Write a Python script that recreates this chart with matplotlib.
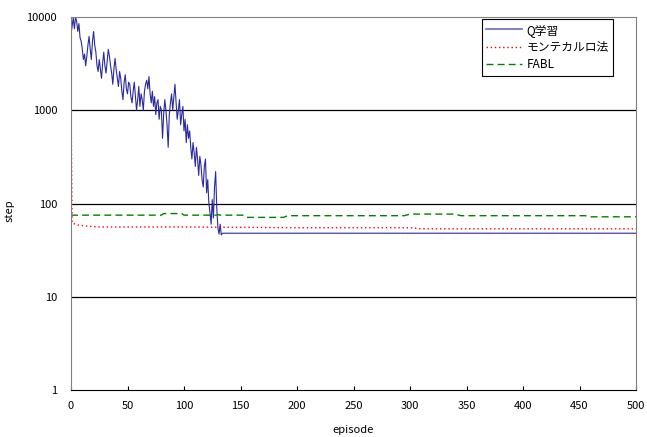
import matplotlib
matplotlib.use('Agg')
import matplotlib.pyplot as plt
import numpy as np

plt.rcParams['font.family'] = ['Noto Sans CJK JP', 'DejaVu Sans']

q_head = [6500, 8000, 9800, 7500, 10000, 9000, 7000, 8500, 6000, 5500,
          4500, 3500, 4000, 3000, 3800, 5000, 6200, 4500, 3500, 5500,
          7000, 5000, 4200, 3000, 2600, 3500, 2800, 2200, 3200, 4200,
          3000, 2500, 3400, 4500, 3800, 3000, 2500, 1900, 2800, 3600,
          2700, 2200, 1800, 2600, 2200, 1600, 1300, 2000, 2400, 1700,
          1500, 2000, 1900, 1400, 1200, 1600, 2000, 1400, 1000, 1300,
          1800, 1100, 1500, 1300, 1000, 1600, 1900, 2100, 1700, 2300,
          1500, 1200, 1600, 1100, 1400, 900, 1200, 1300, 800, 1100,
          1000, 500, 900, 1300, 1000, 700, 400, 900, 1200, 1500,
          1000, 1400, 1900, 1200, 800, 1000, 1300, 700, 900, 1100,
          600, 800, 450, 700, 500, 600, 400, 300, 450, 350,
          250, 400, 300, 200, 320, 260, 180, 150, 250, 300,
          130, 180, 100, 80, 60, 110, 70, 150, 220, 90,
          55, 47, 60, 46, 48]
q_tail = [48] * (501 - len(q_head))
q_values = q_head + q_tail
episodes = list(range(501))

# モンテカルロ法 (breakpoints)
mc_ep = [0, 1, 5, 15, 25, 100, 200, 300, 310, 500]
mc_val = [1300, 62, 59, 57, 56, 56, 55, 55, 53.5, 53.5]

# FABL (breakpoints)
fabl_ep = [0, 80, 82, 98, 100, 128, 130, 132, 152, 155, 188, 192, 295, 300, 340, 345, 455, 460, 500]
fabl_val = [75, 75, 78, 78, 75, 75, 76, 75, 75, 71, 71, 74, 74, 77, 77, 74, 74, 72, 72]

fig = plt.figure(figsize=(6.47, 4.37), dpi=100)
ax = fig.add_axes([71/647, 1-390/437, 565/647, 373/437])

ax.plot(episodes, q_values, color='#2a2a9e', lw=0.8, label='Q学習')
ax.plot(mc_ep, mc_val, color='red', lw=1.0, ls=(0, (1, 2)), label='モンテカルロ法')
ax.plot(fabl_ep, fabl_val, color='#008000', lw=1.0, ls=(0, (5, 3)), label='FABL')

ax.set_yscale('log')
ax.set_ylim(1, 10000)
ax.set_xlim(0, 500)
ax.set_yticks([1, 10, 100, 1000, 10000])
ax.set_yticklabels(['1', '10', '100', '1000', '10000'])
ax.minorticks_off()
ax.set_xticks(range(0, 501, 50))

for v in [10, 100, 1000]:
    ax.axhline(v, color='black', lw=0.9, zorder=0)

ax.tick_params(axis='x', direction='in', length=3, labelsize=8, pad=8)
ax.tick_params(axis='y', length=0, labelsize=8, pad=10)

for s in ['top', 'right', 'left']:
    ax.spines[s].set_color('#808080')
ax.spines['bottom'].set_color('black')

ax.set_xlabel('episode', fontsize=8, labelpad=10)
ax.set_ylabel('step', fontsize=8)
ax.yaxis.set_label_coords(-0.1, 0.48)

leg = ax.legend(loc='upper right', bbox_to_anchor=(0.96, 0.995), borderaxespad=0,
                fontsize=8.5, handlelength=3.0, handletextpad=0.4, fancybox=False,
                framealpha=1, edgecolor='black', labelspacing=0.35, borderpad=0.4)
leg.get_frame().set_linewidth(0.8)
leg.get_lines()[0].set_color('#6a6ac4')
leg.get_lines()[0].set_linewidth(1.2)

fig.savefig('out.png', dpi=100)
